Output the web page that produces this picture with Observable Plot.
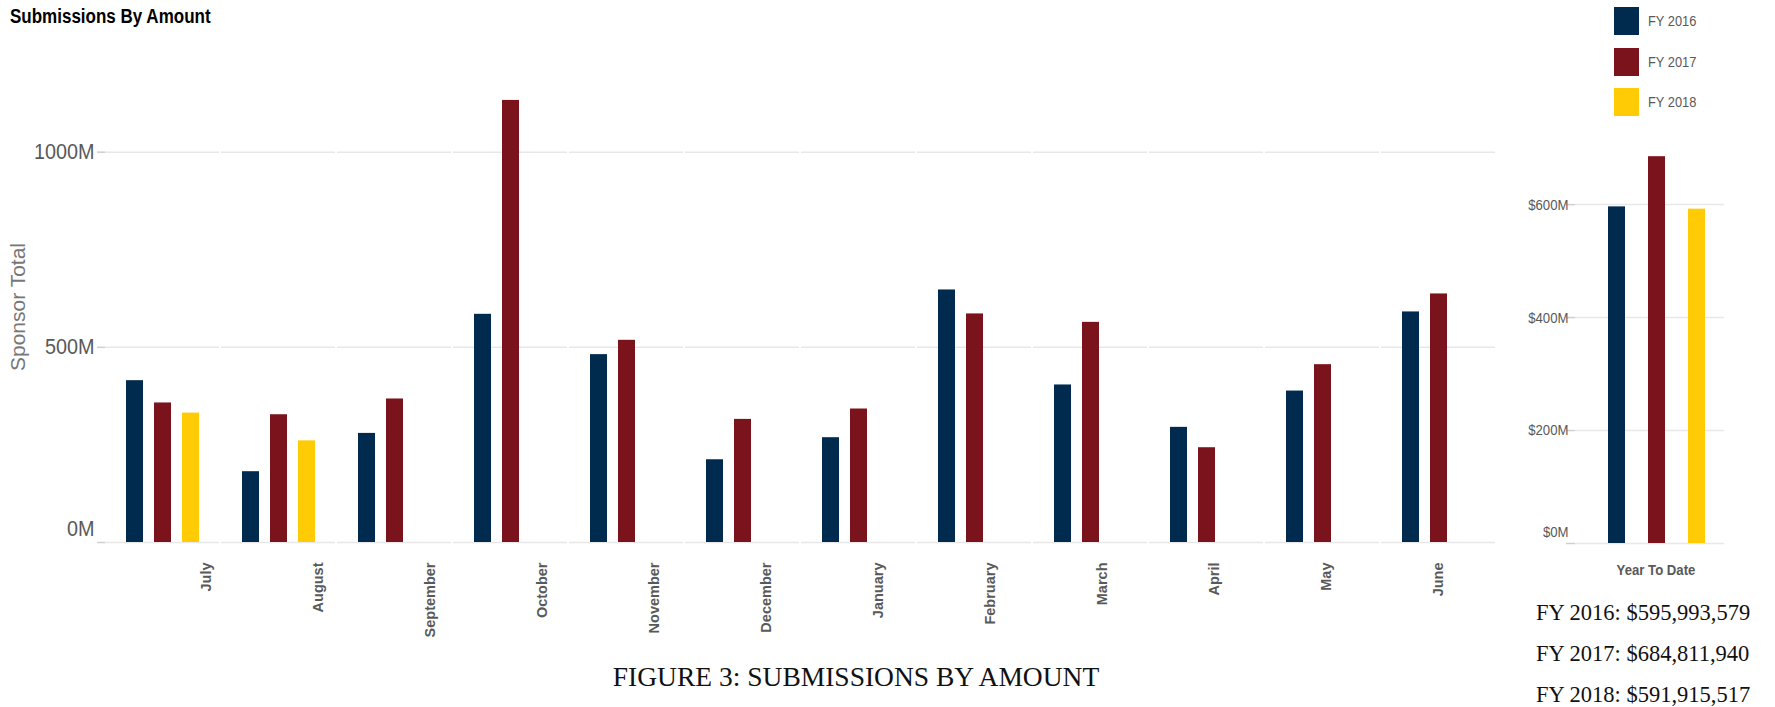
<!DOCTYPE html>
<html>
<head>
<meta charset="utf-8">
<script src="https://cdn.jsdelivr.net/npm/d3@7"></script>
<script src="https://cdn.jsdelivr.net/npm/@observablehq/plot@0.6"></script>
<style>
  html, body { margin: 0; padding: 0; background: #fff; }
  #wrap { position: relative; width: 1775px; height: 707px; overflow: hidden; background: #fff; }
  #wrap svg { position: absolute; overflow: visible; }
  .sans { font-family: 'Liberation Sans', Arial, sans-serif; }
  .serif { font-family: 'Liberation Serif', 'DejaVu Serif', serif; color: #111; }
</style>
</head>
<body>
<div id="wrap"></div>
<script>
// ---- data ----
const months = ["July","August","September","October","November","December","January","February","March","April","May","June"];
const years = ["FY 2016","FY 2017","FY 2018"];
const colors = ["#002a4e","#7b131d","#ffcb05"];
const fy2016 = [414.6, 181.4, 279.5, 584.6, 481.3, 212, 268.5, 647, 403.6, 295, 388, 590.7];
const fy2017 = [357.5, 327.3, 367.7, 1132.6, 518, 315.4, 342, 585.6, 564, 242.8, 455.6, 636.8];
const fy2018 = [331.5, 260.4];
const mainTicks = [0, 500, 1000];
const ytdTicks = [0, 200, 400, 600];
const ytdTotals = [595993579, 684811940, 591915517];
const titleText = "Submissions By Amount";
const yLabel = "Sponsor Total";
const ytdLabel = "Year To Date";
const captionText = "FIGURE 3: SUBMISSIONS BY AMOUNT";

const sans = "'Liberation Sans',Arial,sans-serif";
const grey = "#595959";

const series = [fy2016, fy2017, fy2018];
const monthly = [];
months.forEach((m, i) => {
  series.forEach((s, j) => {
    if (s[i] != null) monthly.push({month: m, year: years[j], value: s[i]});
  });
});
const ytd = years.map((y, j) => ({year: y, value: ytdTotals[j] / 1e6}));

const wrap = document.getElementById("wrap");

// horizontally condense SVG texts (the reference uses a narrow face)
function condense(svg, s) {
  svg.querySelectorAll("text").forEach(t => {
    let tr = t.getAttribute("transform");
    if (!tr || !/translate/.test(tr)) {
      const x = +(t.getAttribute("x") || 0), y = +(t.getAttribute("y") || 0);
      t.setAttribute("x", 0); t.setAttribute("y", 0);
      tr = `translate(${x},${y})` + (tr ? " " + tr : "");
    }
    t.setAttribute("transform", tr + ` scale(${s},1)`);
  });
}

// ---- main chart ----
const main = Plot.plot({
  width: 1500, height: 660,
  marginTop: 90, marginBottom: 118, marginLeft: 102, marginRight: 3,
  style: {background: "transparent", overflow: "visible"},
  fx: {domain: months, padding: 0.02, axis: null, label: null},
  x: {domain: years, paddingInner: 0.4, paddingOuter: 0.67, axis: null},
  y: {domain: [0, 1158], axis: null},
  color: {domain: years, range: colors},
  marks: [
    Plot.gridY(mainTicks, {stroke: "#e8e8e8", strokeOpacity: 1, strokeWidth: 1.5}),
    Plot.barY(monthly, {fx: "month", x: "year", y: "value", fill: "year"}),
    Plot.axisY(mainTicks, {tickSize: 8, tickFormat: () => "", stroke: "#cfcfcf", strokeWidth: 1.5, label: null}),
    Plot.axisY(mainTicks.filter(d => d > 0), {tickSize: 0, tickPadding: 11, tickFormat: d => d + "M", fontSize: 22, fontFamily: sans, fill: grey, label: null}),
    Plot.axisY(mainTicks.filter(d => d === 0), {tickSize: 0, tickPadding: 11, tickFormat: d => d + "M", fontSize: 22, fontFamily: sans, fill: grey, label: null, dy: -14})
  ]
});
main.style.left = "0px"; main.style.top = "0px";
condense(main, 0.9);
wrap.appendChild(main);

// month labels (evenly spread under the panes, as in the reference)
const monthAxis = Plot.plot({
  width: 1500, height: 660,
  marginTop: 90, marginBottom: 118, marginLeft: 0, marginRight: 0,
  style: {background: "transparent", overflow: "visible"},
  x: {type: "point", domain: months, range: [204, 1440], padding: 0, axis: null},
  marks: [
    Plot.axisX({anchor: "bottom", tickSize: 0, tickPadding: 20, tickRotate: -90, fontSize: 14.5, fontWeight: "bold", fontFamily: sans, fill: grey, label: null})
  ]
});
monthAxis.style.left = "0px"; monthAxis.style.top = "0px";
wrap.appendChild(monthAxis);

// ---- year to date chart ----
const fmtM = d => "$" + d + "M";
const ytdPlot = Plot.plot({
  width: 260, height: 600,
  marginTop: 90, marginBottom: 57, marginLeft: 95, marginRight: 16,
  style: {background: "transparent", overflow: "visible"},
  x: {domain: years, paddingInner: 0.575, paddingOuter: 0.62, align: 0.64, axis: null},
  y: {domain: [0, 802], axis: null},
  color: {domain: years, range: colors},
  marks: [
    Plot.gridY(ytdTicks, {stroke: "#e8e8e8", strokeOpacity: 1, strokeWidth: 1.5}),
    Plot.barY(ytd, {x: "year", y: "value", fill: "year"}),
    Plot.axisY(ytdTicks, {tickSize: 9, tickFormat: () => "", stroke: "#cfcfcf", strokeWidth: 1.5, label: null}),
    Plot.axisY(ytdTicks.filter(d => d > 0), {tickSize: 0, tickPadding: 7, tickFormat: fmtM, fontSize: 15.5, fontFamily: sans, fill: grey, label: null}),
    Plot.axisY(ytdTicks.filter(d => d === 0), {tickSize: 0, tickPadding: 7, tickFormat: fmtM, fontSize: 15.5, fontFamily: sans, fill: grey, label: null, dy: -11}),
    Plot.text([ytdLabel], {text: d => d, frameAnchor: "bottom", dy: 31, dx: 6, fontWeight: "bold", fontSize: 15.5, fontFamily: sans, fill: grey})
  ]
});
ytdPlot.style.left = "1480px"; ytdPlot.style.top = "0px";
condense(ytdPlot, 0.85);
wrap.appendChild(ytdPlot);

// ---- texts ----
function addDiv(text, css, cls) {
  const d = document.createElement("div");
  d.textContent = text;
  if (cls) d.className = cls;
  d.style.position = "absolute";
  d.style.whiteSpace = "nowrap";
  Object.assign(d.style, css);
  wrap.appendChild(d);
  return d;
}
addDiv(titleText, {left: "10px", top: "6px", fontSize: "20px", lineHeight: "20px", fontWeight: "bold", color: "#000",
  transform: "scaleX(0.85)", transformOrigin: "0 50%"}, "sans");
addDiv(yLabel, {left: "17px", top: "307px", fontSize: "21px", lineHeight: "21px", color: "#777",
  transform: "translate(-50%,-50%) rotate(-90deg)"}, "sans");

// legend
years.forEach((y, j) => {
  const top = 7 + j * 40.5;
  addDiv("", {left: "1614px", top: top + "px", width: "25px", height: "28px", background: colors[j]});
  addDiv(y, {left: "1648px", top: (top + 14) + "px", fontSize: "15.5px", lineHeight: "16px", color: grey,
    transform: "translateY(-50%) scaleX(0.83)", transformOrigin: "0 50%"}, "sans");
});

// caption and totals
addDiv(captionText, {left: "856px", top: "677px", fontSize: "27.5px", lineHeight: "28px", transform: "translate(-50%,-50%)"}, "serif");
const fmtD = d3.format("$,");
years.forEach((y, j) => {
  addDiv(y + ": " + fmtD(ytdTotals[j]), {left: "1536px", top: (612 + j * 40.8) + "px", fontSize: "22.5px", lineHeight: "23px", transform: "translateY(-50%)"}, "serif");
});
</script>
</body>
</html>
